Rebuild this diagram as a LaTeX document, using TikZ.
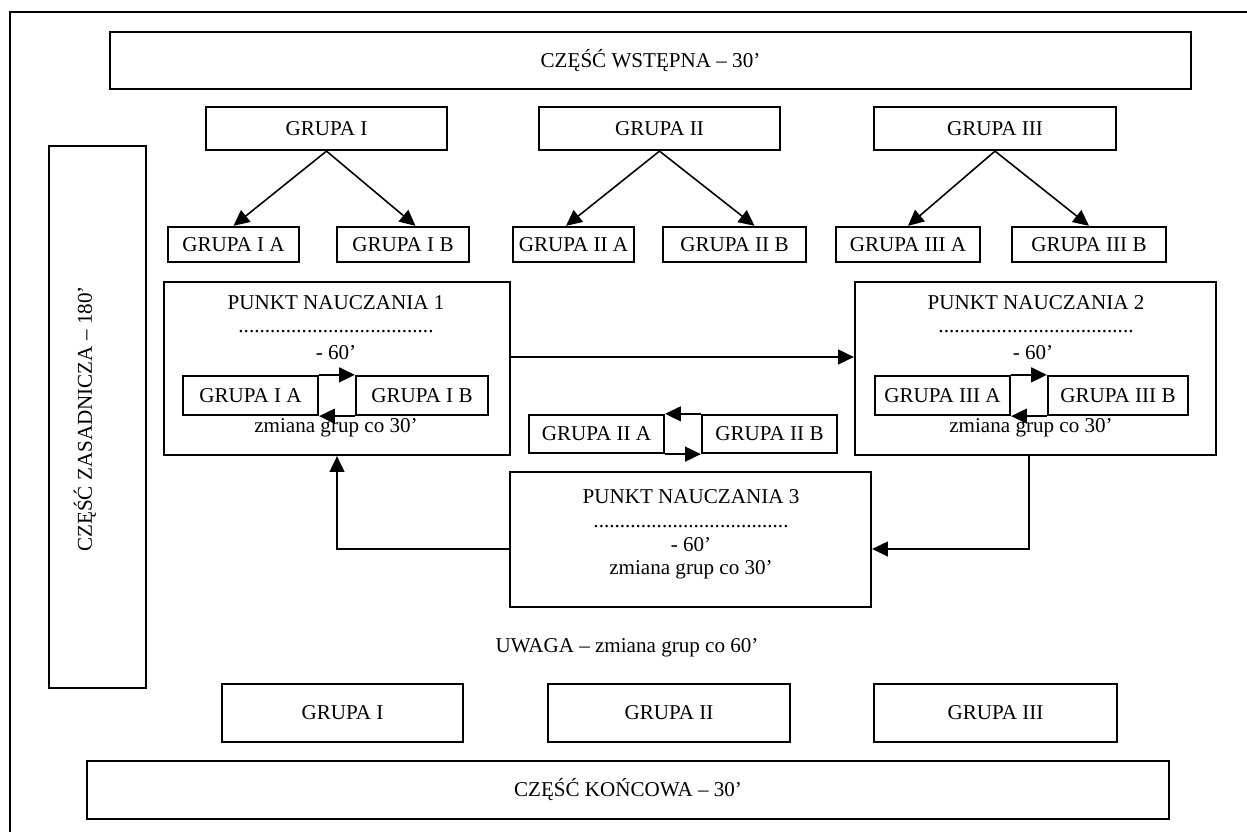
\documentclass[tikz,border=0pt]{standalone}
\usepackage{fontspec}
\setmainfont{Liberation Serif}
\usetikzlibrary{arrows.meta, calc}
\tikzset{>={Triangle[length=9pt,width=8.5pt]}}
\tikzset{
  pole/.style={draw, line width=1.3pt, inner sep=0pt, align=center},
  mala/.style={pole, minimum height=0.7cm},
  wew/.style={pole, minimum height=0.78cm},
  strz/.style={->, line width=0.9pt},
}

\begin{document}
\begin{tikzpicture}[every node/.append style={font=\fontsize{12pt}{14pt}\selectfont}]
        \useasboundingbox (0,0) rectangle (24.94,16.64);
        \draw[line width=1.3pt] (0.2,0) -- (0.2,16.4) -- (24.94,16.4);
        % czesci zajec
        \node[pole, minimum width=21.62cm, minimum height=1.14cm] (wstepna) at (13.01,15.43) {CZĘŚĆ WSTĘPNA – 30’};
        \node[pole, rotate=90, minimum width=10.84cm, minimum height=1.94cm] (zasadnicza) at (1.95,8.3) {};
        \node[rotate=90] (tz) at (1.7,8.26) {CZĘŚĆ ZASADNICZA – 180’};
        \node[pole, minimum width=21.64cm, minimum height=1.16cm] (koncowa) at (12.56,0.84) {CZĘŚĆ KOŃCOWA – 30’};
        % podzial na grupy
        \node[pole, minimum width=4.82cm, minimum height=0.86cm] (g1) at (6.53,14.07) {GRUPA I};
        \node[pole, minimum width=4.82cm, minimum height=0.86cm] (g2) at (13.19,14.07) {GRUPA II};
        \node[pole, minimum width=4.84cm, minimum height=0.86cm] (g3) at (19.9,14.07) {GRUPA III};
        \node[mala, minimum width=2.62cm] (g1a) at (4.67,11.75) {GRUPA I A};
        \node[mala, minimum width=2.64cm] (g1b) at (8.06,11.75) {GRUPA I B};
        \node[mala, minimum width=2.42cm] (g2a) at (11.47,11.75) {GRUPA II A};
        \node[mala, minimum width=2.86cm] (g2b) at (14.69,11.75) {GRUPA II B};
        \node[mala, minimum width=2.88cm] (g3a) at (18.16,11.75) {GRUPA III A};
        \node[mala, minimum width=3.08cm] (g3b) at (21.78,11.75) {GRUPA III B};
        \draw[strz] (g1.south) -- (g1a.north);
        \draw[strz] (g1.south) -- ($(g1b.north)+(0.25,0)$);
        \draw[strz] (g2.south) -- ($(g2a.north)+(-0.15,0)$);
        \draw[strz] (g2.south) -- ($(g2b.north)+(0.4,0)$);
        \draw[strz] (g3.south) -- (g3a.north);
        \draw[strz] (g3.south) -- (g3b.north);
        % punkty nauczania
        \node[pole, minimum width=6.92cm, minimum height=3.46cm] (pkt1) at (6.74,9.27) {};
        \node (t1) at (6.72,10.58) {PUNKT NAUCZANIA 1};
        \node (k1) at (6.72,10.0) {.....................................};
        \node (c1) at (6.72,9.58) {- 60’};
        \node[wew, minimum width=2.7cm] (p1a) at (5.01,8.73) {GRUPA I A};
        \node[wew, minimum width=2.64cm] (p1b) at (8.44,8.73) {GRUPA I B};
        \node (z1) at (6.72,8.08) {zmiana grup co 30’};
        \node[pole, minimum width=7.22cm, minimum height=3.46cm] (pkt2) at (20.71,9.27) {};
        \node (t2) at (20.72,10.58) {PUNKT NAUCZANIA 2};
        \node (k2) at (20.72,10.0) {.....................................};
        \node (c2) at (20.66,9.58) {- 60’};
        \node[wew, minimum width=2.7cm] (p2a) at (18.85,8.73) {GRUPA III A};
        \node[wew, minimum width=2.8cm] (p2b) at (22.36,8.73) {GRUPA III B};
        \node (z2) at (20.62,8.08) {zmiana grup co 30’};
        \node[pole, minimum width=7.22cm, minimum height=2.7cm] (pkt3) at (13.81,5.85) {};
        \node (t3) at (13.82,6.7) {PUNKT NAUCZANIA 3};
        \node (k3) at (13.82,6.1) {.....................................};
        \node (c3) at (13.82,5.74) {- 60’};
        \node (z3) at (13.82,5.24) {zmiana grup co 30’};
        \node[wew, minimum width=2.7cm, minimum height=0.76cm] (m2a) at (11.93,7.96) {GRUPA II A};
        \node[wew, minimum width=2.7cm, minimum height=0.76cm] (m2b) at (15.39,7.96) {GRUPA II B};
        % zmiany grup
        \draw[strz] (p1a.north east) -- (p1b.north west);
        \draw[strz] (p1b.south west) -- (p1a.south east);
        \draw[strz] (p2a.north east) -- (p2b.north west);
        \draw[strz] (p2b.south west) -- (p2a.south east);
        \draw[strz] (m2b.north west) -- (m2a.north east);
        \draw[strz] (m2a.south east) -- (m2b.south west);
        % przejscia miedzy punktami
        \draw[strz] ($(pkt1.east)+(0,0.23)$) coordinate (a1) -- (a1 -| pkt2.west);
        \draw[strz] ($(pkt2.south)+(-0.13,0)$) |- ($(pkt3.east)+(0,-0.19)$);
        \draw[strz] ($(pkt3.west)+(0,-0.19)$) -| (pkt1.south);
        % zakonczenie
        \node (uwaga) at (12.54,3.68) {UWAGA – zmiana grup co 60’};
        \node[pole, minimum width=4.82cm, minimum height=1.16cm] (k1g) at (6.85,2.38) {GRUPA I};
        \node[pole, minimum width=4.84cm, minimum height=1.16cm] (k2g) at (13.38,2.38) {GRUPA II};
        \node[pole, minimum width=4.86cm, minimum height=1.16cm] (k3g) at (19.91,2.38) {GRUPA III};
\end{tikzpicture}
\end{document}
